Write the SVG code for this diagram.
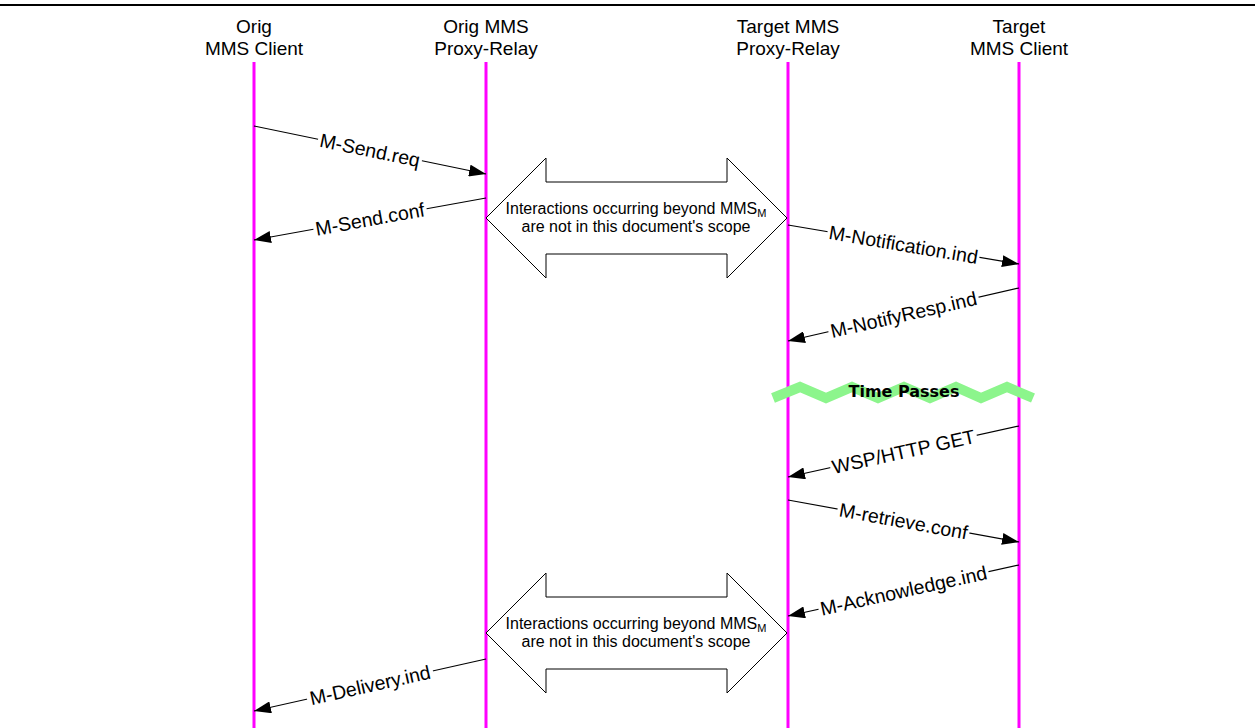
<svg xmlns="http://www.w3.org/2000/svg" width="1255" height="728" viewBox="0 0 1255 728">
<style>
.hdr{font-family:"Liberation Sans",Arial,sans-serif;font-size:19px;fill:#000;text-anchor:middle}
.lbl{font-family:"Liberation Sans",Arial,sans-serif;font-size:19.5px;fill:#000;text-anchor:middle}
.box{font-family:"Liberation Sans",Arial,sans-serif;font-size:16px;fill:#000;text-anchor:middle}
.life{stroke:#FF00FF;stroke-width:3}
.msg{stroke:#000;stroke-width:1.2;fill:none;marker-end:url(#ah)}
.dbl{fill:#fff;stroke:#000;stroke-width:1}
.bg{fill:#fff}
</style>
<defs>
<marker id="ah" markerUnits="userSpaceOnUse" markerWidth="18" markerHeight="12" refX="17" refY="6" orient="auto">
<path d="M0,0 L17,6 L0,12 z" fill="#000"/>
</marker>
</defs>
<rect width="1255" height="728" fill="#fff"/>
<line x1="0" y1="5" x2="1255" y2="5" stroke="#000" stroke-width="2"/>

<g id="orig-client">
<text class="hdr" x="254" y="33">Orig</text>
<text class="hdr" x="254" y="55">MMS Client</text>
<line class="life" x1="254" y1="62" x2="254" y2="728"/>
</g>
<g id="orig-relay">
<text class="hdr" x="486" y="33">Orig MMS</text>
<text class="hdr" x="486" y="55">Proxy-Relay</text>
<line class="life" x1="486" y1="62" x2="486" y2="728"/>
</g>
<g id="target-relay">
<text class="hdr" x="788" y="33">Target MMS</text>
<text class="hdr" x="788" y="55">Proxy-Relay</text>
<line class="life" x1="788" y1="62" x2="788" y2="728"/>
</g>
<g id="target-client">
<text class="hdr" x="1019" y="33">Target</text>
<text class="hdr" x="1019" y="55">MMS Client</text>
<line class="life" x1="1019" y1="62" x2="1019" y2="728"/>
</g>

<g id="scope-top">
<polygon class="dbl" points="486,218 546,158 546,182 727,182 727,158 787,218 727,278 727,254 546,254 546,278"/>
<text class="box" x="636" y="214">Interactions occurring beyond MMS<tspan font-size="11" dy="3">M</tspan></text>
<text class="box" x="636" y="232">are not in this document's scope</text>
</g>
<g id="scope-bottom">
<polygon class="dbl" points="486,633 546,573 546,597 727,597 727,573 787,633 727,693 727,669 546,669 546,693"/>
<text class="box" x="636" y="629">Interactions occurring beyond MMS<tspan font-size="11" dy="3">M</tspan></text>
<text class="box" x="636" y="647">are not in this document's scope</text>
</g>

<g id="time-passes">
<polyline points="773,398 800,387 826,398 852,387 878,398 904,387 930,398 956,387 981,398 1007,387 1033,398" fill="none" stroke="#8CF58C" stroke-width="10"/>
<text x="904" y="397" font-family="'DejaVu Sans',sans-serif" font-weight="bold" font-size="16" text-anchor="middle" fill="#000">Time Passes</text>
</g>

<g id="connectors">
<line class="msg" x1="254" y1="126" x2="486" y2="174"/>
<g transform="translate(370,150) rotate(11.69)"><rect class="bg" x="-53" y="-7" width="106" height="14"/><text class="lbl" x="0" y="7">M-Send.req</text></g>

<line class="msg" x1="486" y1="198" x2="254" y2="240"/>
<g transform="translate(370,219) rotate(-10.26)"><rect class="bg" x="-57.5" y="-7" width="115" height="14"/><text class="lbl" x="0" y="7">M-Send.conf</text></g>

<line class="msg" x1="788" y1="225" x2="1019" y2="264"/>
<g transform="translate(903.5,244.5) rotate(9.58)"><rect class="bg" x="-77" y="-7" width="154" height="14"/><text class="lbl" x="0" y="7">M-Notification.ind</text></g>

<line class="msg" x1="1019" y1="288" x2="788" y2="341"/>
<g transform="translate(903.5,314.5) rotate(-12.92)"><rect class="bg" x="-77" y="-7" width="154" height="14"/><text class="lbl" x="0" y="7">M-NotifyResp.ind</text></g>

<line class="msg" x1="1019" y1="426" x2="788" y2="477"/>
<g transform="translate(903.5,451.5) rotate(-12.45)"><rect class="bg" x="-75" y="-7" width="150" height="14"/><text class="lbl" x="0" y="7">WSP/HTTP GET</text></g>

<line class="msg" x1="788" y1="500" x2="1019" y2="542"/>
<g transform="translate(903.5,521) rotate(10.30)"><rect class="bg" x="-67" y="-7" width="134" height="14"/><text class="lbl" x="0" y="7">M-retrieve.conf</text></g>

<line class="msg" x1="1019" y1="565" x2="788" y2="616"/>
<g transform="translate(903.5,590.5) rotate(-12.45)"><rect class="bg" x="-87" y="-7" width="174" height="14"/><text class="lbl" x="0" y="7">M-Acknowledge.ind</text></g>

<line class="msg" x1="486" y1="659" x2="254" y2="711"/>
<g transform="translate(370,685) rotate(-12.63)"><rect class="bg" x="-64.5" y="-7" width="129" height="14"/><text class="lbl" x="0" y="7">M-Delivery.ind</text></g>
</g>
</svg>
